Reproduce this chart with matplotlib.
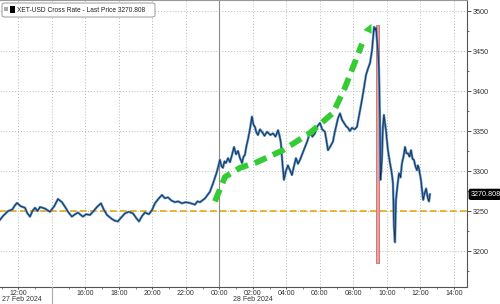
import numpy as np
import matplotlib
matplotlib.use('Agg')
from matplotlib import pyplot as plt
from matplotlib.lines import Line2D
from matplotlib.patches import FancyBboxPatch, Rectangle

plt.rcParams['font.family'] = ['Liberation Sans', 'DejaVu Sans']

# hours relative to 28 Feb 2024 00:00
hours = [-13.09, -12.9, -12.6, -12.35, -12.2, -12.08, -11.85, -11.6, -11.45, -11.3, -11.15,
         -11.0, -10.85, -10.7, -10.4, -10.11, -9.85, -9.63, -9.39, -9.2, -9.03, -8.8,
         -8.6, -8.44, -8.14, -7.95, -7.72, -7.5, -7.3, -7.06, -6.9, -6.7, -6.41, -6.25,
         -6.05, -5.85, -5.63, -5.4, -5.15, -4.95, -4.79, -4.6, -4.44, -4.2, -4.02, -3.84,
         -3.6, -3.42, -3.25, -3.06, -2.85, -2.64, -2.45, -2.23, -2.0, -1.75, -1.45, -1.3,
         -1.15, -0.85, -0.56, -0.38, -0.14, 0.04, 0.13, 0.22, 0.31, 0.4, 0.52, 0.64, 0.76,
         0.88, 1.0, 1.12, 1.24, 1.36, 1.45, 1.53, 1.62, 1.71, 1.83, 1.95, 2.04, 2.13, 2.22,
         2.31, 2.43, 2.55, 2.7, 2.85, 3.05, 3.21, 3.36, 3.51, 3.6, 3.68, 3.77, 3.86, 3.98,
         4.1, 4.22, 4.34, 4.46, 4.58, 4.7, 4.82, 4.97, 5.12, 5.27, 5.41, 5.56, 5.71, 5.86,
         6.01, 6.15, 6.31, 6.4, 6.49, 6.64, 6.79, 6.88, 6.97, 7.09, 7.21, 7.33, 7.45, 7.57,
         7.68, 7.8, 7.92, 8.07, 8.22, 8.37, 8.52, 8.64, 8.76, 8.88, 9.0, 9.06, 9.12, 9.18,
         9.24, 9.3, 9.36, 9.42, 9.47, 9.53, 9.59, 9.62, 9.67, 9.71, 9.77, 9.83, 9.89, 9.95,
         10.01, 10.07, 10.13, 10.19, 10.28, 10.37, 10.43, 10.49, 10.55, 10.64, 10.73, 10.82,
         10.91, 11.0, 11.09, 11.18, 11.27, 11.36, 11.45, 11.54, 11.62, 11.71, 11.8, 11.86,
         11.92, 11.98, 12.04, 12.1, 12.17, 12.26, 12.35, 12.45, 12.52, 12.58]
prices = [3239, 3244, 3250, 3252, 3257, 3260, 3256, 3254, 3247, 3243, 3250,
          3254, 3250, 3255, 3253, 3249, 3256, 3265, 3261, 3255, 3249, 3243,
          3246, 3248, 3243, 3246, 3245, 3250, 3255, 3259.6, 3252, 3245, 3240, 3238,
          3237, 3242, 3247, 3249, 3247, 3241, 3237, 3244, 3248, 3246, 3251, 3259.6,
          3266, 3270, 3266, 3267, 3263, 3261, 3262, 3259.6, 3261, 3260, 3258, 3262,
          3261, 3265.8, 3274, 3284, 3299, 3314, 3306, 3304, 3312, 3310, 3316, 3311, 3320,
          3330, 3321, 3325, 3316, 3310, 3318, 3320, 3331, 3339, 3352, 3368, 3358, 3355, 3348,
          3345, 3352, 3349, 3344, 3349, 3345, 3347, 3343, 3351, 3344, 3335, 3310, 3289, 3300,
          3307, 3301, 3295, 3306, 3316, 3309, 3314, 3322, 3330, 3338, 3349, 3343, 3347, 3356,
          3360, 3352, 3349, 3338, 3326, 3331, 3337, 3347, 3355, 3366, 3372, 3364, 3360, 3356,
          3354, 3350, 3354, 3352, 3355, 3372, 3389, 3404, 3420, 3428, 3435, 3443, 3451, 3466,
          3480, 3476, 3479, 3462, 3451, 3430, 3368, 3289, 3300, 3314, 3355, 3370, 3360, 3351,
          3338, 3326, 3318, 3310, 3300, 3285, 3230, 3211, 3264, 3282, 3297, 3292,
          3310, 3318, 3330, 3322, 3322, 3318, 3326, 3315, 3314, 3306, 3301, 3307,
          3303, 3296, 3289, 3278, 3264, 3272, 3278, 3266, 3262, 3270.808]

last_price = 3270.808
ref_level = 3250

# crash marker band
band_hours = [9.33, 9.53]
band_low, band_high = 3185, 3482

# green trend arrow path (hours, price)
arrow_h = [-0.26, 0.34, 1.24, 2.25, 3.8, 5.41, 6.79, 7.5, 8.1, 8.52]
arrow_p = [3262, 3292.5, 3304, 3311, 3326, 3347.5, 3372.5, 3404, 3436, 3459]
arrow_tip = (9.08, 3484)

tick_hours = list(range(-12, 15, 2))
tick_labels = ['12:00', '', '16:00', '18:00', '20:00', '22:00', '00:00', '02:00', '04:00',
               '06:00', '08:00', '10:00', '12:00', '14:00']
y_ticks = [3200, 3250, 3300, 3350, 3400, 3450, 3500]

fig = plt.figure(figsize=(5.0, 3.04), dpi=100)
ax = fig.add_axes([0.0, 17 / 304, 467 / 500, 287 / 304])

ax.set_xlim(-13.09, 14.79)
ax.set_ylim(3155, 3513.75)

ax.grid(which='major', color='#b8b8b8', linestyle=(0, (1, 2)), lw=0.7)
ax.axvline(0, color='#8a8a8a', lw=0.8)

ax.axhline(ref_level, color='#e6a817', lw=1.2, linestyle=(0, (4, 2)), zorder=2)

ax.fill_between(band_hours, band_low, band_high, facecolor='#e8a0a0', edgecolor='#d06a6a',
                lw=0.6, zorder=2)

ax.plot(hours, prices, color='#4a86c5', lw=1.7, zorder=3)
ax.plot(hours, prices, color='#15202e', lw=0.5, zorder=4)

green = '#33cc33'
ax.plot(arrow_h, arrow_p, color=green, lw=4.2, linestyle=(0, (2.2, 1.2)), zorder=5,
        solid_capstyle='butt')
ax.annotate('', xy=arrow_tip, xytext=(arrow_h[-1], arrow_p[-1]),
            arrowprops=dict(arrowstyle='-|>', mutation_scale=16, color=green, lw=0,
                            shrinkA=0, shrinkB=0), zorder=6)

# axes styling
ax.yaxis.tick_right()
ax.set_yticks(y_ticks)
ax.set_yticks(np.arange(3175, 3513, 25), minor=True)
ax.set_xticks(tick_hours)
ax.set_xticklabels(tick_labels)
ax.set_xticks(np.arange(-13, 15, 2), minor=True)
ax.tick_params(axis='y', which='major', labelsize=5.2, length=3, width=0.6, pad=1.5,
               colors='#333333', direction='out')
ax.tick_params(axis='y', which='minor', length=1.5, width=0.5, colors='#333333')
ax.tick_params(axis='x', which='major', labelsize=5.0, length=1.5, width=0.6, pad=1.0,
               colors='#333333')
ax.tick_params(axis='x', which='minor', length=1.5, width=0.5, colors='#555555')
ax.spines['left'].set_visible(False)
ax.spines['top'].set_color('#999999')
ax.spines['top'].set_linewidth(0.8)
ax.spines['right'].set_color('#555555')
ax.spines['bottom'].set_color('#555555')
ax.spines['right'].set_linewidth(0.8)
ax.spines['bottom'].set_linewidth(0.8)

# date labels under the time ticks
ax.text(2 / 467, -0.044, '27 Feb 2024', transform=ax.transAxes, ha='left',
        va='center', fontsize=5.0, color='#333333')
ax.text(2.0, -0.044, '28 Feb 2024', transform=ax.get_xaxis_transform(), ha='center',
        va='center', fontsize=5.0, color='#333333')
fig.add_artist(Line2D([52 / 500, 52 / 500], [0, 17 / 304], color='#aaaaaa', lw=0.8))

# last price tag
ax.text(1.008, last_price, '3270.808', transform=ax.get_yaxis_transform(), ha='left',
        va='center', fontsize=5.2, color='white',
        bbox=dict(boxstyle='round,pad=0.2', facecolor='black', edgecolor='black'),
        clip_on=False)

# legend box (pixel positions converted to axes fractions)
def px(x, y):
    return x / 467, (287 - y) / 287

ax.add_patch(FancyBboxPatch(px(2, 17), 153 / 467, 14 / 287, transform=ax.transAxes,
                            boxstyle='round,pad=0,rounding_size=0.006', facecolor='white',
                            edgecolor='#888888', lw=0.6, zorder=7))
ax.add_patch(Rectangle(px(4, 11), 3.5 / 467, 4 / 287, transform=ax.transAxes,
                       facecolor='#aaaaaa', edgecolor='none', zorder=8))
ax.add_patch(Rectangle(px(9.5, 12.5), 5.5 / 467, 6 / 287, transform=ax.transAxes,
                       facecolor='black', edgecolor='none', zorder=8))
ax.text(*px(17, 10), 'XET-USD Cross Rate - Last Price 3270.808', transform=ax.transAxes,
        ha='left', va='center', fontsize=4.8, color='#222222', zorder=8)

fig.savefig('out.png', dpi=100)
